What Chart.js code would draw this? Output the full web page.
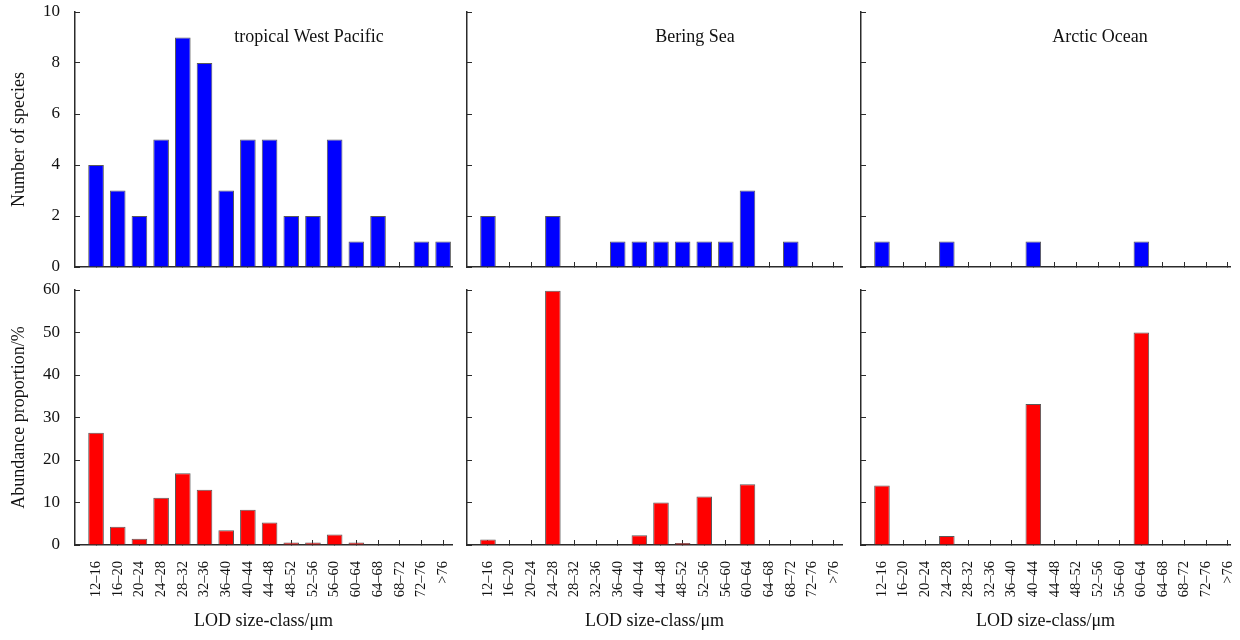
<!DOCTYPE html>
<html>
<head>
<meta charset="utf-8">
<script src="https://cdn.jsdelivr.net/npm/chart.js@4/dist/chart.umd.min.js"></script>
<style>
  html, body { margin: 0; padding: 0; background: #fff; }
  body { width: 1240px; height: 640px; position: relative; overflow: hidden; }
  canvas { position: absolute; }
</style>
</head>
<body>
<canvas id="c00" width="460" height="280" style="left:0px;top:0px"></canvas>
<canvas id="c01" width="390" height="280" style="left:460px;top:0px"></canvas>
<canvas id="c02" width="390" height="280" style="left:850px;top:0px"></canvas>
<canvas id="c10" width="460" height="360" style="left:0px;top:280px"></canvas>
<canvas id="c11" width="390" height="360" style="left:460px;top:280px"></canvas>
<canvas id="c12" width="390" height="360" style="left:850px;top:280px"></canvas>
<script>
// ---------------- data ----------------
const categories = ['12–16','16–20','20–24','24–28','28–32','32–36','36–40','40–44','44–48',
                    '48–52','52–56','56–60','60–64','64–68','68–72','72–76','>76'];
const regions = ['tropical West Pacific', 'Bering Sea', 'Arctic Ocean'];

const speciesTWP = [4, 3, 2, 5, 9, 8, 3, 5, 5, 2, 2, 5, 1, 2, 0, 1, 1];
const speciesBS  = [2, 0, 0, 2, 0, 0, 1, 1, 1, 1, 1, 1, 3, 0, 1, 0, 0];
const speciesAO  = [1, 0, 0, 1, 0, 0, 0, 1, 0, 0, 0, 0, 1, 0, 0, 0, 0];

const abundanceTWP = [26.4, 4.3, 1.5, 11.1, 16.9, 13.0, 3.5, 8.3, 5.3, 0.6, 0.6, 2.5, 0.6, 0.15, 0, 0.15, 0];
const abundanceBS  = [1.3, 0, 0, 59.8, 0, 0, 0, 2.3, 10.0, 0.5, 11.4, 0, 14.3, 0, 0, 0, 0];
const abundanceAO  = [14.0, 0, 0, 2.1, 0, 0, 0, 33.2, 0, 0, 0, 0, 50.0, 0, 0, 0, 0];

const speciesTicks = [0, 2, 4, 6, 8, 10];
const abundanceTicks = [0, 10, 20, 30, 40, 50, 60];

const yTitleSpecies = 'Number of species';
const yTitleAbundance = 'Abundance proportion/%';
const xTitle = 'LOD size-class/μm';

// ---------------- layout / style ----------------
const SERIF = '"Liberation Serif", "Times New Roman", serif';
const AXIS = '#2b2b2b';
const cols = [
  { yWidth: 75, padRight: 8,  xMax: 16.41, labelDx: 234 },
  { yWidth: 7,  padRight: 8,  xMax: 16.37, labelDx: 228 },
  { yWidth: 11, padRight: 10, xMax: 16.10, labelDx: 239 }
];

function noPad(s) {
  s.paddingTop = 0; s.paddingBottom = 0; s.paddingLeft = 0; s.paddingRight = 0;
}

const panelLabel = {
  id: 'panelLabel',
  afterDraw(chart, args, o) {
    if (!o || !o.text) return;
    const { ctx, chartArea } = chart;
    ctx.save();
    ctx.font = '18px ' + SERIF;
    ctx.fillStyle = '#111';
    ctx.textAlign = 'center';
    ctx.textBaseline = 'middle';
    ctx.fillText(o.text, chartArea.left + o.dx, chartArea.top + o.dy);
    ctx.restore();
  }
};

function makePanel(id, row, col, values, color, yTicks, yTitle) {
  const c = cols[col];
  const isBottom = row === 1;
  new Chart(document.getElementById(id), {
    type: 'bar',
    data: {
      datasets: [{
        data: values.map((v, i) => ({ x: i, y: v })),
        backgroundColor: color,
        borderColor: '#5a5a5a',
        borderWidth: 1,
        borderSkipped: 'start',
        barPercentage: 0.72,
        categoryPercentage: 1
      }]
    },
    options: {
      responsive: false,
      animation: false,
      events: [],
      layout: { padding: { top: isBottom ? 10 : 12, right: c.padRight, left: 0, bottom: 0 } },
      plugins: {
        legend: { display: false },
        tooltip: { enabled: false },
        panelLabel: isBottom ? {} : { text: regions[col], dx: c.labelDx, dy: 25 }
      },
      scales: {
        x: {
          type: 'linear',
          offset: false,
          min: -0.97,
          max: c.xMax,
          afterBuildTicks: (s) => { s.ticks = categories.map((_, i) => ({ value: i })); },
          afterFit: (s) => { s.height = isBottom ? 95 : 13; noPad(s); },
          border: { display: true, color: AXIS, width: 1.5 },
          grid: { display: true, offset: false, drawOnChartArea: false, drawTicks: true, tickLength: -5, color: AXIS, lineWidth: 1 },
          ticks: {
            display: isBottom,
            autoSkip: false,
            minRotation: 90,
            maxRotation: 90,
            padding: 21,
            color: '#111',
            font: { family: SERIF, size: 14.5 },
            callback: (v) => categories[v]
          },
          title: {
            display: isBottom,
            text: xTitle,
            color: '#111',
            font: { family: SERIF, size: 18 },
            padding: { top: 4, bottom: 8 }
          }
        },
        y: {
          min: yTicks[0],
          max: yTicks[yTicks.length - 1],
          afterBuildTicks: (s) => { s.ticks = yTicks.map(v => ({ value: v })); },
          afterFit: (s) => { s.width = c.yWidth; noPad(s); },
          border: { display: true, color: AXIS, width: 1.5 },
          grid: { display: true, drawOnChartArea: false, drawTicks: true, tickLength: -5, color: AXIS, lineWidth: 1 },
          ticks: {
            display: col === 0,
            padding: 20,
            color: '#111',
            font: { family: SERIF, size: 17 }
          },
          title: {
            display: col === 0,
            text: yTitle,
            color: '#111',
            font: { family: SERIF, size: 18 },
            padding: { top: 8, bottom: 4 }
          }
        }
      }
    },
    plugins: [panelLabel]
  });
}

const BLUE = '#0000ff', RED = '#ff0000';
makePanel('c00', 0, 0, speciesTWP, BLUE, speciesTicks, yTitleSpecies);
makePanel('c01', 0, 1, speciesBS,  BLUE, speciesTicks, yTitleSpecies);
makePanel('c02', 0, 2, speciesAO,  BLUE, speciesTicks, yTitleSpecies);
makePanel('c10', 1, 0, abundanceTWP, RED, abundanceTicks, yTitleAbundance);
makePanel('c11', 1, 1, abundanceBS,  RED, abundanceTicks, yTitleAbundance);
makePanel('c12', 1, 2, abundanceAO,  RED, abundanceTicks, yTitleAbundance);
</script>
</body>
</html>
